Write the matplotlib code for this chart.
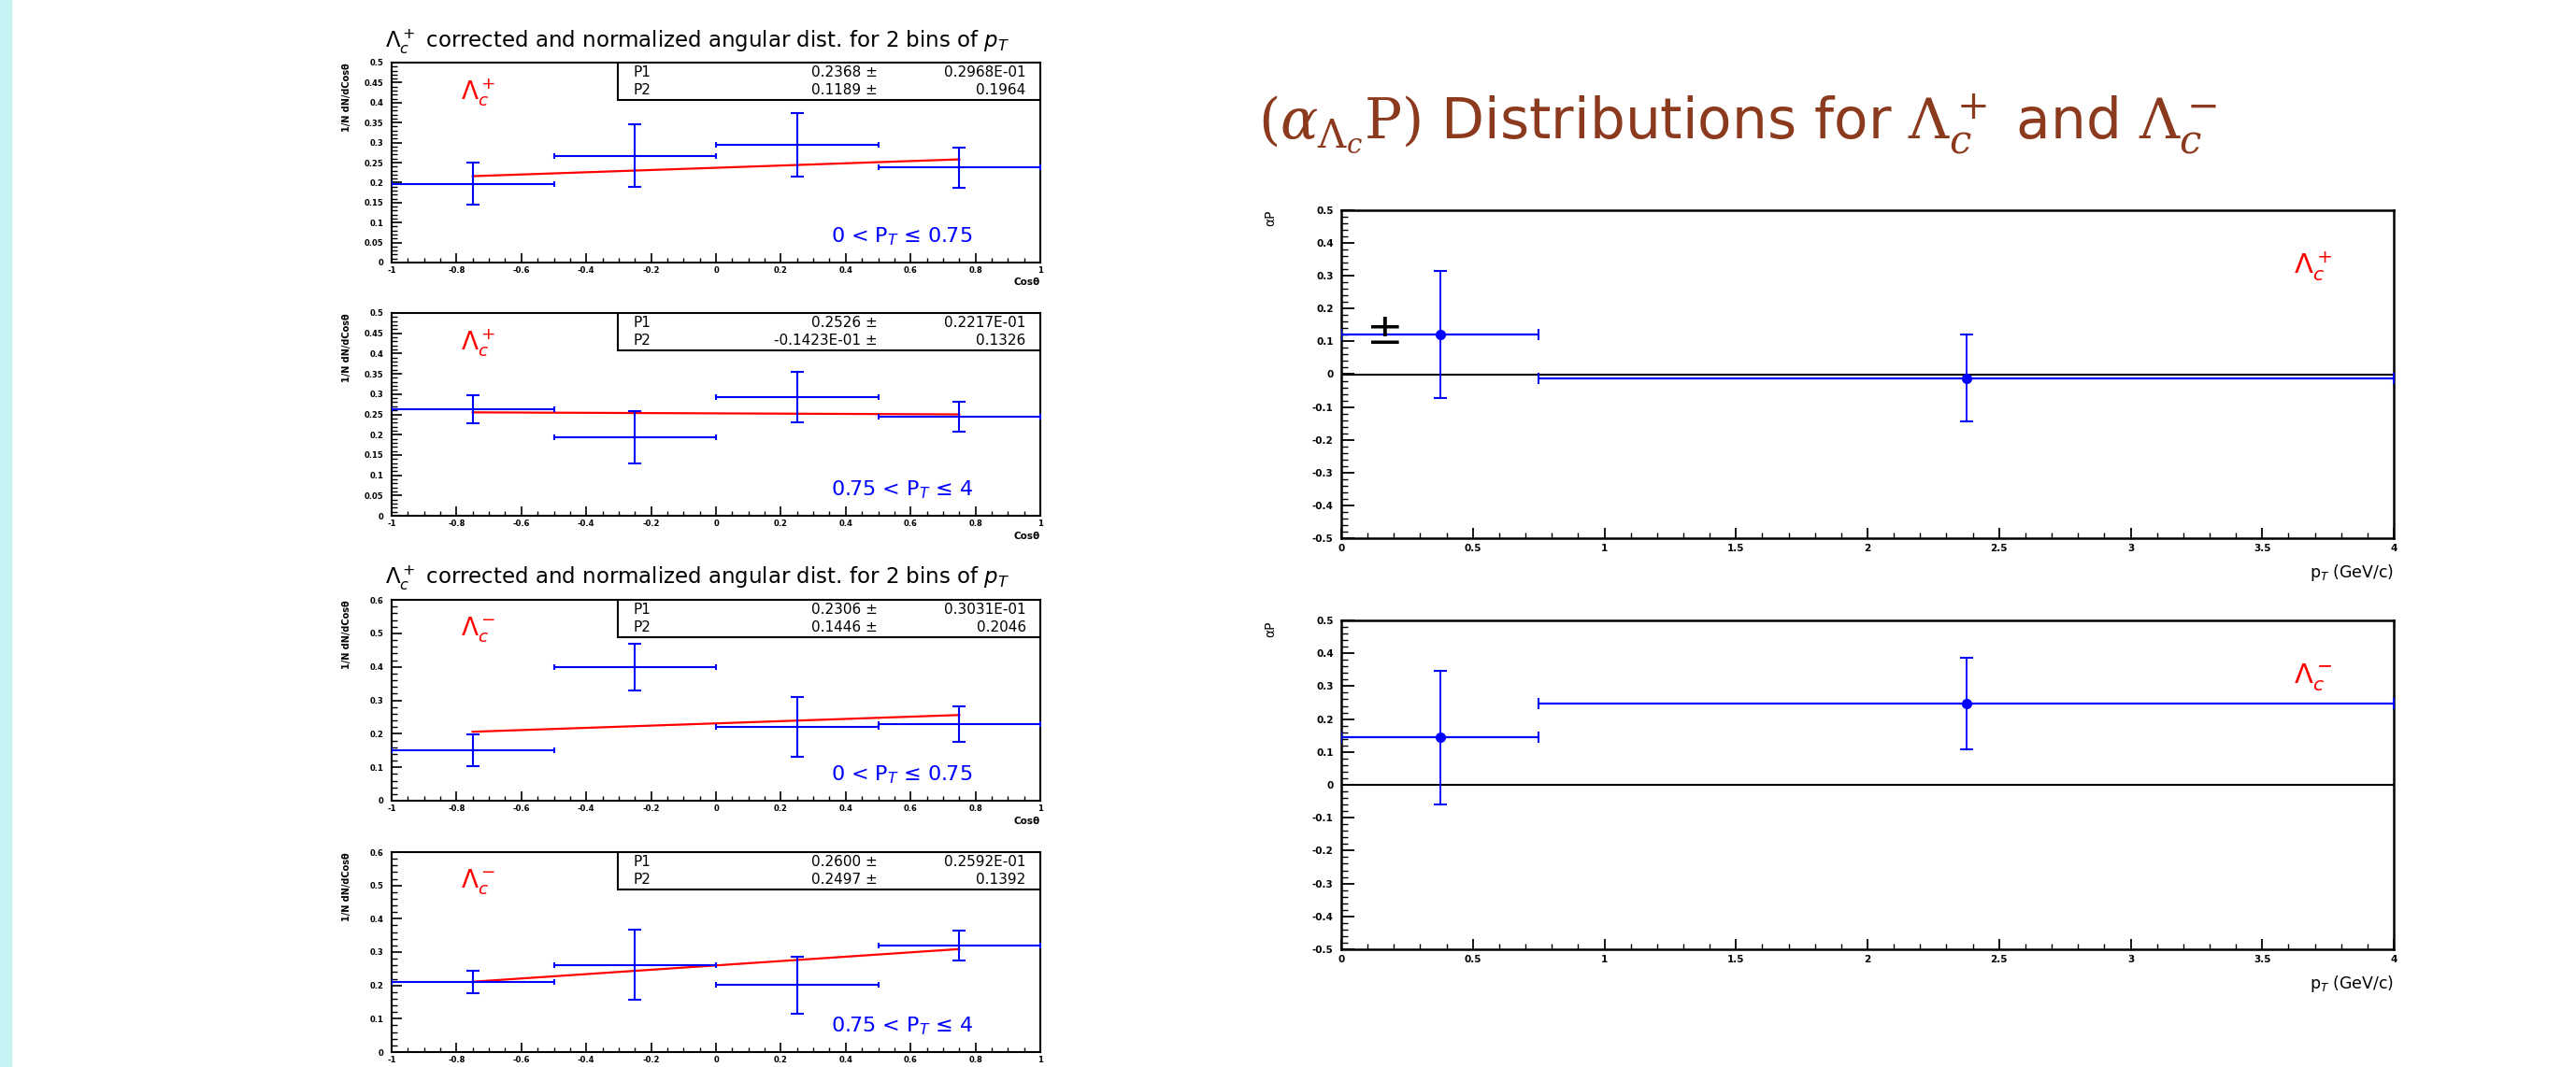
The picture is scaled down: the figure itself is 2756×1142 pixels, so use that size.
import numpy as np
import matplotlib.pyplot as plt
from matplotlib.patches import Rectangle
from matplotlib.ticker import MultipleLocator, FuncFormatter

plt.rcParams['font.family'] = ['DejaVu Sans']

# ---- left: corrected, normalized angular distributions (cos theta bins)
cos_centers = [-0.75, -0.25, 0.25, 0.75]
cos_halfwidth = 0.25
fit_x = [-0.75, 0.75]

lcp_low_y = [0.197, 0.267, 0.295, 0.238]
lcp_low_err = [0.052, 0.078, 0.080, 0.050]
lcp_low_fit = [0.216, 0.258]
lcp_low_pars = [("P1", "0.2368 \u00b1", "0.2968E-01"), ("P2", "0.1189 \u00b1", "0.1964")]

lcp_high_y = [0.262, 0.193, 0.293, 0.244]
lcp_high_err = [0.035, 0.065, 0.062, 0.037]
lcp_high_fit = [0.255, 0.250]
lcp_high_pars = [("P1", "0.2526 \u00b1", "0.2217E-01"), ("P2", "-0.1423E-01 \u00b1", "0.1326")]

lcm_low_y = [0.151, 0.400, 0.221, 0.228]
lcm_low_err = [0.048, 0.070, 0.090, 0.053]
lcm_low_fit = [0.206, 0.256]
lcm_low_pars = [("P1", "0.2306 \u00b1", "0.3031E-01"), ("P2", "0.1446 \u00b1", "0.2046")]

lcm_high_y = [0.211, 0.262, 0.201, 0.319]
lcm_high_err = [0.033, 0.104, 0.085, 0.045]
lcm_high_fit = [0.211, 0.309]
lcm_high_pars = [("P1", "0.2600 \u00b1", "0.2592E-01"), ("P2", "0.2497 \u00b1", "0.1392")]

# ---- right: alpha*P vs pT
pt_centers = [0.375, 2.375]
pt_halfwidth = [0.375, 1.625]
ap_plus = [0.121, -0.012]
ap_plus_err = [0.195, 0.133]
ap_minus = [0.144, 0.247]
ap_minus_err = [0.204, 0.139]
pm_mark = (0.165, 0.128)   # the black "±" drawn in the upper pad

W, H = 2756, 1142
fig = plt.figure(figsize=(W / 100, H / 100), dpi=100)
fig.patch.set_facecolor('white')
fig.patches.append(Rectangle((0, 0), 12 / W, 1, transform=fig.transFigure,
                             color='#c4f4f4', zorder=0))

tick_fmt = FuncFormatter(lambda v, p: '%g' % round(v, 6) if abs(v) > 1e-9 else '0')


def px_axes(l, t, r, b):
    return fig.add_axes([l / W, 1 - b / H, (r - l) / W, (b - t) / H])


def root_frame(ax, lw):
    for s in ax.spines.values():
        s.set_linewidth(lw)
    ax.tick_params(which='both', direction='in', top=False, right=False)
    ax.xaxis.set_major_formatter(tick_fmt)
    ax.yaxis.set_major_formatter(tick_fmt)


def cos_panel(box, y, yerr, fit, ytop, ystep, pars, name, ptlab, xlab=True):
    ax = px_axes(*box)
    ax.set_xlim(-1, 1)
    ax.set_ylim(0, ytop)
    root_frame(ax, 1.5)
    ax.xaxis.set_major_locator(MultipleLocator(0.2))
    ax.xaxis.set_minor_locator(MultipleLocator(0.05))
    ax.yaxis.set_major_locator(MultipleLocator(ystep))
    ax.yaxis.set_minor_locator(MultipleLocator(ystep / 5))
    ax.tick_params(axis='x', which='major', length=7, width=1.2, labelsize=6, pad=3)
    ax.tick_params(axis='x', which='minor', length=3.5, width=1.0)
    ax.tick_params(axis='y', which='major', length=8, width=1.2, labelsize=6, pad=6)
    ax.tick_params(axis='y', which='minor', length=4, width=1.0)
    for lab in ax.get_xticklabels() + ax.get_yticklabels():
        lab.set_fontweight('bold')

    ax.plot(fit_x, fit, color='red', lw=1.6, zorder=2)
    ax.errorbar(cos_centers, y, yerr=yerr, fmt='none', ecolor='#0000ff',
                elinewidth=1.5, capsize=5, capthick=1.5, zorder=3)
    ax.errorbar(cos_centers, y, xerr=cos_halfwidth, fmt='none', ecolor='#0000ff',
                elinewidth=1.5, capsize=2.5, capthick=1.5, zorder=3)

    ax.add_patch(Rectangle((0.349, 0.815), 0.651, 0.185, transform=ax.transAxes,
                           facecolor='white', edgecolor='black', lw=1.5, zorder=5))
    for (p, v, e), yy in zip(pars, [0.953, 0.862]):
        ax.text(0.372, yy, p, transform=ax.transAxes, fontsize=11, va='center', zorder=6)
        ax.text(0.749, yy, v, transform=ax.transAxes, fontsize=11, va='center', ha='right', zorder=6)
        ax.text(0.978, yy, e, transform=ax.transAxes, fontsize=11, va='center', ha='right', zorder=6)

    ax.text(0.133, 0.85, name, transform=ax.transAxes, color='red', fontsize=19,
            ha='center', va='center', math_fontfamily='dejavusans')
    ax.text(0.787, 0.13, ptlab, transform=ax.transAxes, color='#0000ff', fontsize=16,
            ha='center', va='center', math_fontfamily='dejavusans')
    if xlab:
        ax.text(1.0, -0.10, 'Cos\u03b8', transform=ax.transAxes, fontsize=7.5,
                ha='right', va='center', fontweight='bold')
    ax.text(-0.069, 1.0, '1/N dN/dCos\u03b8', transform=ax.transAxes, fontsize=7,
            rotation=90, ha='center', va='top', fontweight='bold')
    return ax


lp = r'$\Lambda_c^+$'
lm = r'$\Lambda_c^-$'
low_lab = '0 < P$_T$ \u2264 0.75'
high_lab = '0.75 < P$_T$ \u2264 4'

cos_panel((419, 67, 1113, 281), lcp_low_y, lcp_low_err, lcp_low_fit, 0.5, 0.05,
          lcp_low_pars, lp, low_lab)
cos_panel((419, 335, 1113, 552), lcp_high_y, lcp_high_err, lcp_high_fit, 0.5, 0.05,
          lcp_high_pars, lp, high_lab)
cos_panel((419, 642, 1113, 857), lcm_low_y, lcm_low_err, lcm_low_fit, 0.6, 0.1,
          lcm_low_pars, lm, low_lab)
cos_panel((419, 912, 1113, 1126), lcm_high_y, lcm_high_err, lcm_high_fit, 0.6, 0.1,
          lcm_high_pars, lm, high_lab, xlab=False)

left_title = r'$\Lambda_c^+$ corrected and normalized angular dist. for 2 bins of $p_T$'
for ty in (45, 619):
    fig.text(746 / W, 1 - ty / H, left_title, fontsize=16.5, ha='center', va='center',
             math_fontfamily='dejavusans')


def pt_panel(box, y, yerr, name):
    ax = px_axes(*box)
    ax.set_xlim(0, 4)
    ax.set_ylim(-0.5, 0.5)
    root_frame(ax, 1.8)
    ax.xaxis.set_major_locator(MultipleLocator(0.5))
    ax.xaxis.set_minor_locator(MultipleLocator(0.1))
    ax.yaxis.set_major_locator(MultipleLocator(0.1))
    ax.yaxis.set_minor_locator(MultipleLocator(0.02))
    ax.tick_params(axis='x', which='major', length=8, width=1.3, labelsize=7.5, pad=4)
    ax.tick_params(axis='x', which='minor', length=4, width=1.0)
    ax.tick_params(axis='y', which='major', length=10, width=1.3, labelsize=7.5, pad=6)
    ax.tick_params(axis='y', which='minor', length=5, width=1.0)
    for lab in ax.get_xticklabels() + ax.get_yticklabels():
        lab.set_fontweight('bold')

    ax.axhline(0, color='black', lw=1.5, zorder=1)
    ax.errorbar(pt_centers, y, xerr=pt_halfwidth, fmt='none', ecolor='#0000ff',
                elinewidth=1.6, capsize=4.5, capthick=1.5, zorder=3)
    ax.errorbar(pt_centers, y, yerr=yerr, fmt='o', color='#0000ff', ms=7,
                elinewidth=1.3, capsize=5, capthick=1.5, zorder=4)

    ax.text(0.923, 0.828, name, transform=ax.transAxes, color='red', fontsize=21,
            ha='center', va='center', math_fontfamily='dejavusans')
    ax.text(1.0, -0.105, r'p$_T$ (GeV/c)', transform=ax.transAxes, fontsize=12.5,
            ha='right', va='center', math_fontfamily='dejavusans')
    ax.text(-0.067, 1.0, '\u03b1P', transform=ax.transAxes, fontsize=10,
            rotation=90, ha='center', va='top')
    return ax


axp = pt_panel((1435, 225, 2561, 576), ap_plus, ap_plus_err, lp)
axp.text(pm_mark[0], pm_mark[1], '\u00b1', fontsize=34, color='black',
         ha='center', va='center', zorder=5)
pt_panel((1435, 664, 2561, 1016), ap_minus, ap_minus_err, lm)

fig.text(1346 / W, 1 - 133 / H,
         r'$(\alpha_{\Lambda_c}\mathrm{P})$ Distributions for $\Lambda_c^+$ and $\Lambda_c^-$',
         fontsize=43, color='#8b3a1e', ha='left', va='center', math_fontfamily='dejavuserif')

fig.savefig('out.png', dpi=100)
